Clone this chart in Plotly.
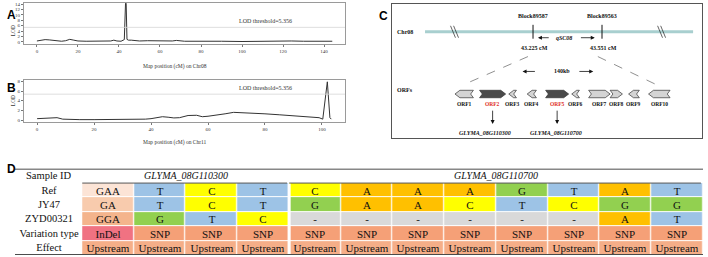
import plotly.graph_objects as go

W, H = 708, 257
def px(x): return x / W
def py(y): return 1 - y / H

SERIF = "Liberation Serif, Times New Roman, serif"
SANS = "Liberation Sans, Arial, sans-serif"

# ---------------- Data: panel A (Chr08 LOD scan) ----------------
cm_chr08 = [0, 2, 4, 6, 8, 10, 12, 14, 16, 18, 20, 24, 28, 32, 36, 37.5, 39, 41, 42.6,
            43.2, 43.5, 43.9, 44.6, 46, 48, 50, 54, 58, 62, 66, 68, 72, 80, 86, 90, 100,
            110, 116, 120, 124, 130, 138, 144]
lod_chr08 = [0.3, 0.6, 0.8, 0.7, 0.5, 0.3, 0.2, 0.4, 0.9, 0.6, 0.3, 0.2, 0.2, 0.1, 0.3,
             0.6, 0.3, 0.2, 0.8, 14.3, 14.3, 0.9, 0.6, 0.6, 0.4, 0.3, 0.4, 0.3, 0.2, 0.3,
             0.5, 0.2, 0.2, 0.3, 0.2, 0.1, 0.2, 0.2, 0.4, 0.3, 0.2, 0.2, 0.2]

# ---------------- Data: panel B (Chr11 LOD scan) ----------------
cm_chr11 = [0, 3, 5, 7, 9, 12, 15, 20, 25, 30, 35, 38, 40, 42, 44, 46, 48, 50, 53, 56,
            58, 60, 63, 66, 69, 72, 76, 80, 85, 90, 93, 95, 97, 99, 100.3, 101.9, 102.8, 103.3]
lod_chr11 = [0.3, 0.4, 0.5, 0.5, 0.2, 0.1, 0.1, 0.1, 0.1, 0.1, 0.1, 0.2, 0.3, 0.5, 0.7,
             0.6, 0.45, 0.5, 0.95, 1.0, 0.7, 0.8, 1.0, 1.3, 1.6, 1.55, 1.5, 1.3, 1.1, 0.9,
             0.8, 0.7, 0.6, 0.5, 0.2, 7.9, 0.5, 0.2]

lod_threshold = 5.356
x_ticks = [0, 20, 40, 60, 80, 100, 120, 140]
y_ticks_a = [0, 2, 4, 6, 8, 10, 12, 14]
y_ticks_b = [0, 2, 4, 6, 8]

# ---------------- Data: panel C (candidate region) ----------------
orf_names = ["ORF1", "ORF2", "ORF3", "ORF4", "ORF5", "ORF6", "ORF7", "ORF8", "ORF9", "ORF10"]
orf_start_kb = [0, 16, 35, 47, 59, 76, 87, 101, 113, 126]
orf_end_kb = [12, 33, 40, 53, 74, 81, 101, 109, 120, 140]
orf_strand = [-1, 1, -1, -1, 1, -1, 1, 1, -1, -1]
orf_candidate = [False, True, False, False, True, False, False, False, False, False]
candidate_genes = {"ORF2": "GLYMA_08G110300", "ORF5": "GLYMA_08G110700"}
block_names = ["Block89587", "Block89563"]
block_cm = ["43.225 cM", "43.551 cM"]
region_size = "140kb"

# ---------------- Data: panel D (variation table) ----------------
row_labels = ["Ref", "JY47", "ZYD00321", "Variation type", "Effect"]
gene_groups = ["GLYMA_08G110300", "GLYMA_08G110700"]
gene_group_sizes = [4, 8]
table_rows = [
    ["GAA", "T", "C", "T", "C", "A", "A", "A", "G", "T", "A", "T"],
    ["GA", "T", "C", "T", "G", "A", "A", "C", "T", "C", "G", "G"],
    ["GGA", "G", "T", "C", "-", "-", "-", "-", "-", "-", "A", "T"],
    ["InDel"] + ["SNP"] * 11,
    ["Upstream"] * 12,
]

fig = go.Figure()

# ================= Panels A and B =================
axis_common = dict(showgrid=False, zeroline=False, showline=True, mirror=True,
                   linecolor="#9a9a9a", linewidth=0.8, ticks="outside", ticklen=2,
                   tickwidth=0.6, tickcolor="#777",
                   tickfont=dict(size=5, family=SERIF, color="#333"))

fig.add_trace(go.Scatter(x=cm_chr08, y=lod_chr08, mode="lines",
                         line=dict(color="#333", width=1), xaxis="x", yaxis="y",
                         hoverinfo="skip"))
fig.add_trace(go.Scatter(x=cm_chr11, y=lod_chr11, mode="lines",
                         line=dict(color="#333", width=1), xaxis="x2", yaxis="y2",
                         hoverinfo="skip"))

layout = dict(
    width=W, height=H, margin=dict(l=0, r=0, t=0, b=0),
    paper_bgcolor="white", plot_bgcolor="white", showlegend=False,
    xaxis=dict(domain=[px(24), px(345)], range=[-6.3, 150.2], tickvals=x_ticks,
               anchor="y", **axis_common),
    yaxis=dict(domain=[py(43), py(2)], range=[-0.7, 14.4], tickvals=y_ticks_a,
               anchor="x", **axis_common),
    xaxis2=dict(domain=[px(24), px(345)], range=[-4.6, 108.1], tickvals=x_ticks[:6],
                anchor="y2", **axis_common),
    yaxis2=dict(domain=[py(122), py(80)], range=[-0.4, 8.2], tickvals=y_ticks_b,
                anchor="x2", **axis_common),
)

shapes = []
annotations = []

for xr, yr, off, chrom, ymid in [("x", "y", 2.3, "Chr08", 24), ("x2", "y2", 1.2, "Chr11", 101)]:
    shapes.append(dict(type="line", xref=f"{xr} domain", yref=yr, x0=0, x1=1,
                       y0=lod_threshold, y1=lod_threshold,
                       line=dict(color="#d6d6d6", width=0.8)))
    annotations.append(dict(xref=f"{xr} domain", yref=yr, x=0.84, y=lod_threshold + off,
                            text=f"LOD threshold={lod_threshold}", showarrow=False,
                            font=dict(size=6, family=SERIF, color="#333")))
    annotations.append(dict(xref="paper", yref="paper", x=px(9), y=py(ymid),
                            text="LOD", textangle=-90, showarrow=False, borderpad=0,
                            font=dict(size=5.5, family=SERIF, color="#333")))
    annotations.append(dict(xref=f"{xr} domain", yref="paper", x=0.47,
                            y=py(60 if chrom == "Chr08" else 143),
                            text=f"Map position (cM) on {chrom}", showarrow=False,
                            font=dict(size=5.5, family=SERIF, color="#333")))

# panel letters
for letter, x, y in [("A", 6, 6), ("B", 6, 80), ("C", 383, 7), ("D", 6, 177)]:
    annotations.append(dict(xref="paper", yref="paper", x=px(x), y=py(y),
                            text=f"<b>{letter}</b>", showarrow=False, borderpad=0,
                            font=dict(size=12, family=SANS, color="black")))

# ================= Panel C =================
layout["xaxis3"] = dict(domain=[px(392), px(702)], range=[-41.0, 160.8], anchor="y3",
                        showgrid=False, zeroline=False, showticklabels=False, ticks="",
                        showline=True, mirror=True, linecolor="#555", linewidth=0.9)
layout["yaxis3"] = dict(domain=[py(138), py(3)], range=[138, 3], anchor="x3",
                        showgrid=False, zeroline=False, showticklabels=False, ticks="",
                        showline=True, mirror=True, linecolor="#555", linewidth=0.9)

def c_text(x, y, text, color="#111", size=6):
    annotations.append(dict(xref="x3", yref="y3", x=x, y=y, text=text, showarrow=False,
                            font=dict(size=size, family=SERIF, color=color)))

def c_arrow(x_tail, x_head, y_tail, y_head):
    annotations.append(dict(xref="x3", yref="y3", axref="x3", ayref="y3", x=x_head,
                            y=y_head, ax=x_tail, ay=y_tail, text="", showarrow=True,
                            arrowhead=2, arrowsize=1, arrowwidth=0.8, arrowcolor="#111"))

# chromosome bar
chr_y = 31
shapes.append(dict(type="line", xref="x3", yref="y3", x0=-19.5, x1=155, y0=chr_y, y1=chr_y,
                   line=dict(color="#A8CFCF", width=3)))
for sx in [-1.3, 133.5]:
    for d in [0, 2.0]:
        shapes.append(dict(type="line", xref="x3", yref="y3", x0=sx + d - 1.6, x1=sx + d + 1.6,
                           y0=25, y1=37, line=dict(color="#222", width=0.7)))
c_text(-32.5, chr_y, "<b>Chr08</b>")
block_x = [50.8, 95.7]
for bx, bn, bc in zip(block_x, block_names, block_cm):
    shapes.append(dict(type="line", xref="x3", yref="y3", x0=bx, x1=bx, y0=24, y1=38,
                       line=dict(color="#111", width=1)))
    c_text(bx, 15, f"<b>{bn}</b>")
    c_text(bx + 1, 47, f"<b>{bc}</b>")
c_text(71, 37, "<b><i>qSC08</i></b>")
c_arrow(62, 54, 37, 37)
c_arrow(81, 91, 37, 37)
# zoom dashed lines
shapes.append(dict(type="line", xref="x3", yref="y3", x0=47.5, y0=56, x1=4.6, y1=85,
                   line=dict(color="#444", width=0.6, dash="dash")))
shapes.append(dict(type="line", xref="x3", yref="y3", x0=93.0, y0=56, x1=132, y1=85,
                   line=dict(color="#444", width=0.6, dash="dash")))
c_text(69.7, 71, f"<b>{region_size}</b>")
c_arrow(53, 44, 71, 71)
c_arrow(80, 90, 71, 71)
c_text(-32.5, 90, "<b>ORFs</b>")

# ORF arrows
yt, yb = 90, 97.5
ym = (yt + yb) / 2
head, notch = 3.2, 1.8
gene_label_shift = {"ORF2": -5, "ORF5": -0.5}
for name, s, e, st, cand in zip(orf_names, orf_start_kb, orf_end_kb, orf_strand, orf_candidate):
    if st > 0:
        pts = [(s, yt), (e - head, yt), (e, ym), (e - head, yb), (s, yb), (s + notch, ym)]
    else:
        pts = [(e, yt), (s + head, yt), (s, ym), (s + head, yb), (e, yb), (e - notch, ym)]
    path = "M " + " L ".join(f"{x},{y}" for x, y in pts) + " Z"
    shapes.append(dict(type="path", xref="x3", yref="y3", path=path,
                       fillcolor="#4a4a4a" if cand else "#d4d4d4",
                       line=dict(color="#333", width=0.7)))
    cx = (s + e) / 2
    c_text(cx, 103.5, f"<b>{name}</b>", color="#e0302a" if cand else "#111", size=5.5)
    if cand:
        c_arrow(cx, cx, 109, 124)
        c_text(cx + gene_label_shift[name], 133,
               f"<b><i>{candidate_genes[name]}</i></b>", size=6)

# ================= Panel D =================
label_w = 1.3
data_edges = [label_w + i for i in range(len(table_rows[0]) + 1)]
x_total = data_edges[-1]
layout["xaxis4"] = dict(domain=[px(15), px(703)], range=[0, x_total], anchor="y4",
                        showgrid=False, zeroline=False, showticklabels=False, ticks="",
                        showline=False)
n_rows = len(row_labels)
layout["yaxis4"] = dict(domain=[py(256), py(169)], range=[n_rows - 0.5, -1.5], anchor="x4",
                        showgrid=False, zeroline=False, showticklabels=False, ticks="",
                        showline=False)

cell_colors = {
    "GAA": "#FCE4D6", "GA": "#F8CBAD", "GGA": "#F4B48C",
    "A": "#FFC000", "C": "#FFFF00", "G": "#92D050", "T": "#9DC3E6", "-": "#D9D9D9",
    "InDel": "#F07282", "SNP": "#F5A077", "Upstream": "#F5AE88",
}
keys = list(cell_colors)
N = len(keys)
cscale = []
for k, key in enumerate(keys):
    cscale.append([k / N, cell_colors[key]])
    cscale.append([(k + 1) / N, cell_colors[key]])
z = [[keys.index(v) + 0.5 for v in row] for row in table_rows]

fig.add_trace(go.Heatmap(
    z=z, x=data_edges, y=list(range(n_rows)), text=table_rows, texttemplate="%{text}",
    textfont=dict(family=SERIF, size=11, color="#111"), colorscale=cscale, zmin=0, zmax=N,
    showscale=False, xgap=1.2, ygap=1, xaxis="x4", yaxis="y4", hoverinfo="skip"))
fig.add_trace(go.Heatmap(
    z=[[0] for _ in row_labels], x=[0, label_w], y=list(range(n_rows)),
    text=[[r] for r in row_labels], texttemplate="%{text}",
    textfont=dict(family=SERIF, size=10.5, color="#111"),
    colorscale=[[0, "white"], [1, "white"]], showscale=False, xaxis="x4", yaxis="y4",
    hoverinfo="skip"))

annotations.append(dict(xref="x4", yref="y4", x=label_w / 2, y=-1, text="Sample ID",
                        showarrow=False, font=dict(family=SERIF, size=10.5, color="#111")))
start = label_w
for g, n in zip(gene_groups, gene_group_sizes):
    annotations.append(dict(xref="x4", yref="y4", x=start + n / 2, y=-1.02, text=f"<i>{g}</i>",
                            showarrow=False, font=dict(family=SERIF, size=10, color="#111")))
    shapes.append(dict(type="line", xref="x4", yref="y4", x0=start, x1=start + n - 0.04,
                       y0=-0.5, y1=-0.5, line=dict(color="#555", width=1)))
    start += n
# separator between gene groups
sep = label_w + gene_group_sizes[0]
shapes.append(dict(type="line", xref="x4", yref="y4", x0=sep, x1=sep, y0=-0.45,
                   y1=n_rows - 0.5, line=dict(color="white", width=3)))
# top and bottom rules
for yy in [-1.5, n_rows - 0.5]:
    shapes.append(dict(type="line", xref="x4", yref="y4", x0=0, x1=x_total, y0=yy, y1=yy,
                       line=dict(color="#111", width=1.6)))

layout["shapes"] = shapes
layout["annotations"] = annotations
fig.update_layout(**layout)
fig.write_html("out.html", config={"displayModeBar": False},
               post_script="document.body.style.margin='0';document.body.style.overflow='hidden';")
